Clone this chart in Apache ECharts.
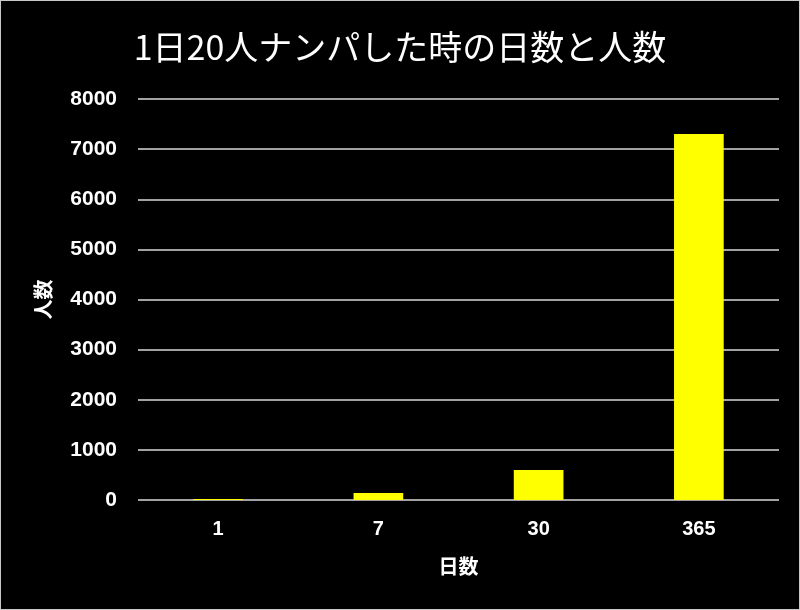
<!DOCTYPE html>
<html><head><meta charset="utf-8">
<script src="https://cdn.jsdelivr.net/npm/echarts@6/dist/echarts.min.js"></script>
<style>html,body{margin:0;padding:0;background:#fff;}#c{width:798px;height:608px;border:1px solid #c8c8c8;background:#000;}</style>
</head><body><div id="c"></div>
<script>
const categories = ['1', '7', '30', '365'];
const values = [20, 140, 600, 7300];
const yTicks = { min: 0, max: 8000, interval: 1000 };
const titleText = '1日20人ナンパした時の日数と人数';
const xName = '日数';
const yName = '人数';

const chart = echarts.init(document.getElementById('c'));
chart.setOption({
  backgroundColor: '#000',
  animation: false,
  title: {
    text: titleText, left: 'center', top: 24,
    textStyle: { color: '#fff', fontSize: 34, fontWeight: 'normal', fontFamily: 'Noto Sans CJK JP' }
  },
  grid: { left: 137, right: 20, top: 98, bottom: 109 },
  xAxis: {
    type: 'category', data: categories,
    name: xName, nameLocation: 'middle', nameGap: 56,
    nameTextStyle: { color: '#fff', fontSize: 20, fontWeight: 'bold', fontFamily: 'Noto Sans CJK JP' },
    axisLine: { show: false }, axisTick: { show: false },
    axisLabel: { color: '#fff', fontSize: 20, fontWeight: 'bold', margin: 19, fontFamily: 'Liberation Sans' }
  },
  yAxis: {
    type: 'value', min: yTicks.min, max: yTicks.max, interval: yTicks.interval,
    name: yName, nameLocation: 'middle', nameGap: 85, nameRotate: 90,
    nameTextStyle: { color: '#fff', fontSize: 20, fontWeight: 'bold', fontFamily: 'Noto Sans CJK JP' },
    axisLine: { show: false }, axisTick: { show: false },
    axisLabel: { color: '#fff', fontSize: 21, fontWeight: 'bold', margin: 21, fontFamily: 'Liberation Sans',
      formatter: v => String(v) },
    splitLine: { lineStyle: { color: '#d9d9d9', width: 1.5 } }
  },
  series: [{
    type: 'bar', data: values, barWidth: '31%',
    itemStyle: { color: '#ffff00' }
  }]
});
</script></body></html>
